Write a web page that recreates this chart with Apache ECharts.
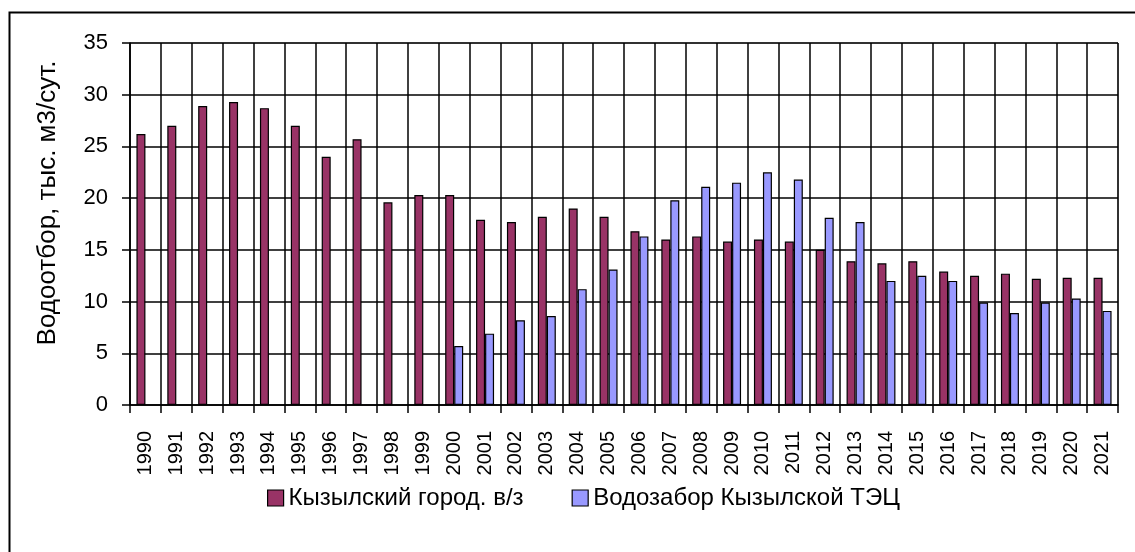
<!DOCTYPE html>
<html>
<head>
<meta charset="utf-8">
<script src="https://cdn.jsdelivr.net/npm/echarts@6/dist/echarts.min.js"></script>
<style>
  html, body { margin: 0; padding: 0; background: #fff; }
  #chart { width: 1135px; height: 552px; }
</style>
</head>
<body>
<div id="chart"></div>
<script>
var years = ['1990','1991','1992','1993','1994','1995','1996','1997','1998','1999',
  '2000','2001','2002','2003','2004','2005','2006','2007','2008','2009','2010',
  '2011','2012','2013','2014','2015','2016','2017','2018','2019','2020','2021'];
var cityIntake = [26.2, 27.0, 28.9, 29.3, 28.7, 27.0, 24.0, 25.7, 19.6, 20.3,
  20.3, 17.9, 17.7, 18.2, 19.0, 18.2, 16.8, 16.0, 16.3, 15.8, 16.0,
  15.8, 15.0, 13.9, 13.7, 13.9, 12.9, 12.5, 12.7, 12.2, 12.3, 12.3];
var tpsIntake = [null, null, null, null, null, null, null, null, null, null,
  5.7, 6.9, 8.2, 8.6, 11.2, 13.1, 16.3, 19.8, 21.1, 21.5, 22.5,
  21.8, 18.1, 17.7, 12.0, 12.5, 12.0, 9.9, 8.9, 9.9, 10.3, 9.1];
var seriesNames = ['Кызылский город. в/з', 'Водозабор Кызылской ТЭЦ'];
var yTitle = 'Водоотбор, тыс. м3/сут.';

var font = 'Liberation Sans';
var chart = echarts.init(document.getElementById('chart'));
chart.setOption({
  animation: false,
  backgroundColor: '#fff',
  textStyle: { fontFamily: font, color: '#000' },
  grid: { left: 130, right: 17, top: 43, bottom: 147, containLabel: false,
    show: true, borderColor: '#888', borderWidth: 1 },
  graphic: [
    // outer frame (only left and top edges fall inside the picture)
    { type: 'polyline', shape: { points: [[9.5, 560], [9.5, 12.5], [1140, 12.5]] },
      style: { stroke: '#000', lineWidth: 2, fill: null } },
    { type: 'text', x: 48, y: 203, rotation: Math.PI / 2,
      style: { text: yTitle, font: '26px ' + font, fill: '#000',
        align: 'center', verticalAlign: 'middle' } }
  ],
  legend: {
    data: seriesNames,
    top: 481,
    left: 262,
    itemWidth: 16,
    itemHeight: 16,
    itemGap: 48,
    icon: 'rect',
    itemStyle: { borderColor: '#000', borderWidth: 1.2 },
    textStyle: { fontSize: 24, fontFamily: font, color: '#000' }
  },
  xAxis: {
    type: 'category',
    data: years,
    axisLine: { lineStyle: { color: '#000', width: 1.5 } },
    axisTick: { show: true, length: 8, lineStyle: { color: '#000', width: 1.5 } },
    splitLine: { show: true, lineStyle: { color: '#000', width: 1.5 } },
    axisLabel: { rotate: 90, fontSize: 20, color: '#000', margin: 26, interval: 0 }
  },
  yAxis: {
    type: 'value',
    min: 0,
    max: 35,
    interval: 5,
    axisLine: { show: true, lineStyle: { color: '#000', width: 1.5 } },
    axisTick: { show: true, length: 8, lineStyle: { color: '#000', width: 1.5 } },
    splitLine: { show: true, lineStyle: { color: '#000', width: 1.5 } },
    axisLabel: { fontSize: 22, color: '#000', margin: 22 }
  },
  series: [
    { name: seriesNames[0], type: 'bar', data: cityIntake,
      barWidth: 9, barGap: '0%',
      itemStyle: { color: '#993366', borderColor: '#000', borderWidth: 1.2 } },
    { name: seriesNames[1], type: 'bar', data: tpsIntake,
      barWidth: 9,
      itemStyle: { color: '#9999ff', borderColor: '#000', borderWidth: 1.2 } }
  ]
});
</script>
</body>
</html>
